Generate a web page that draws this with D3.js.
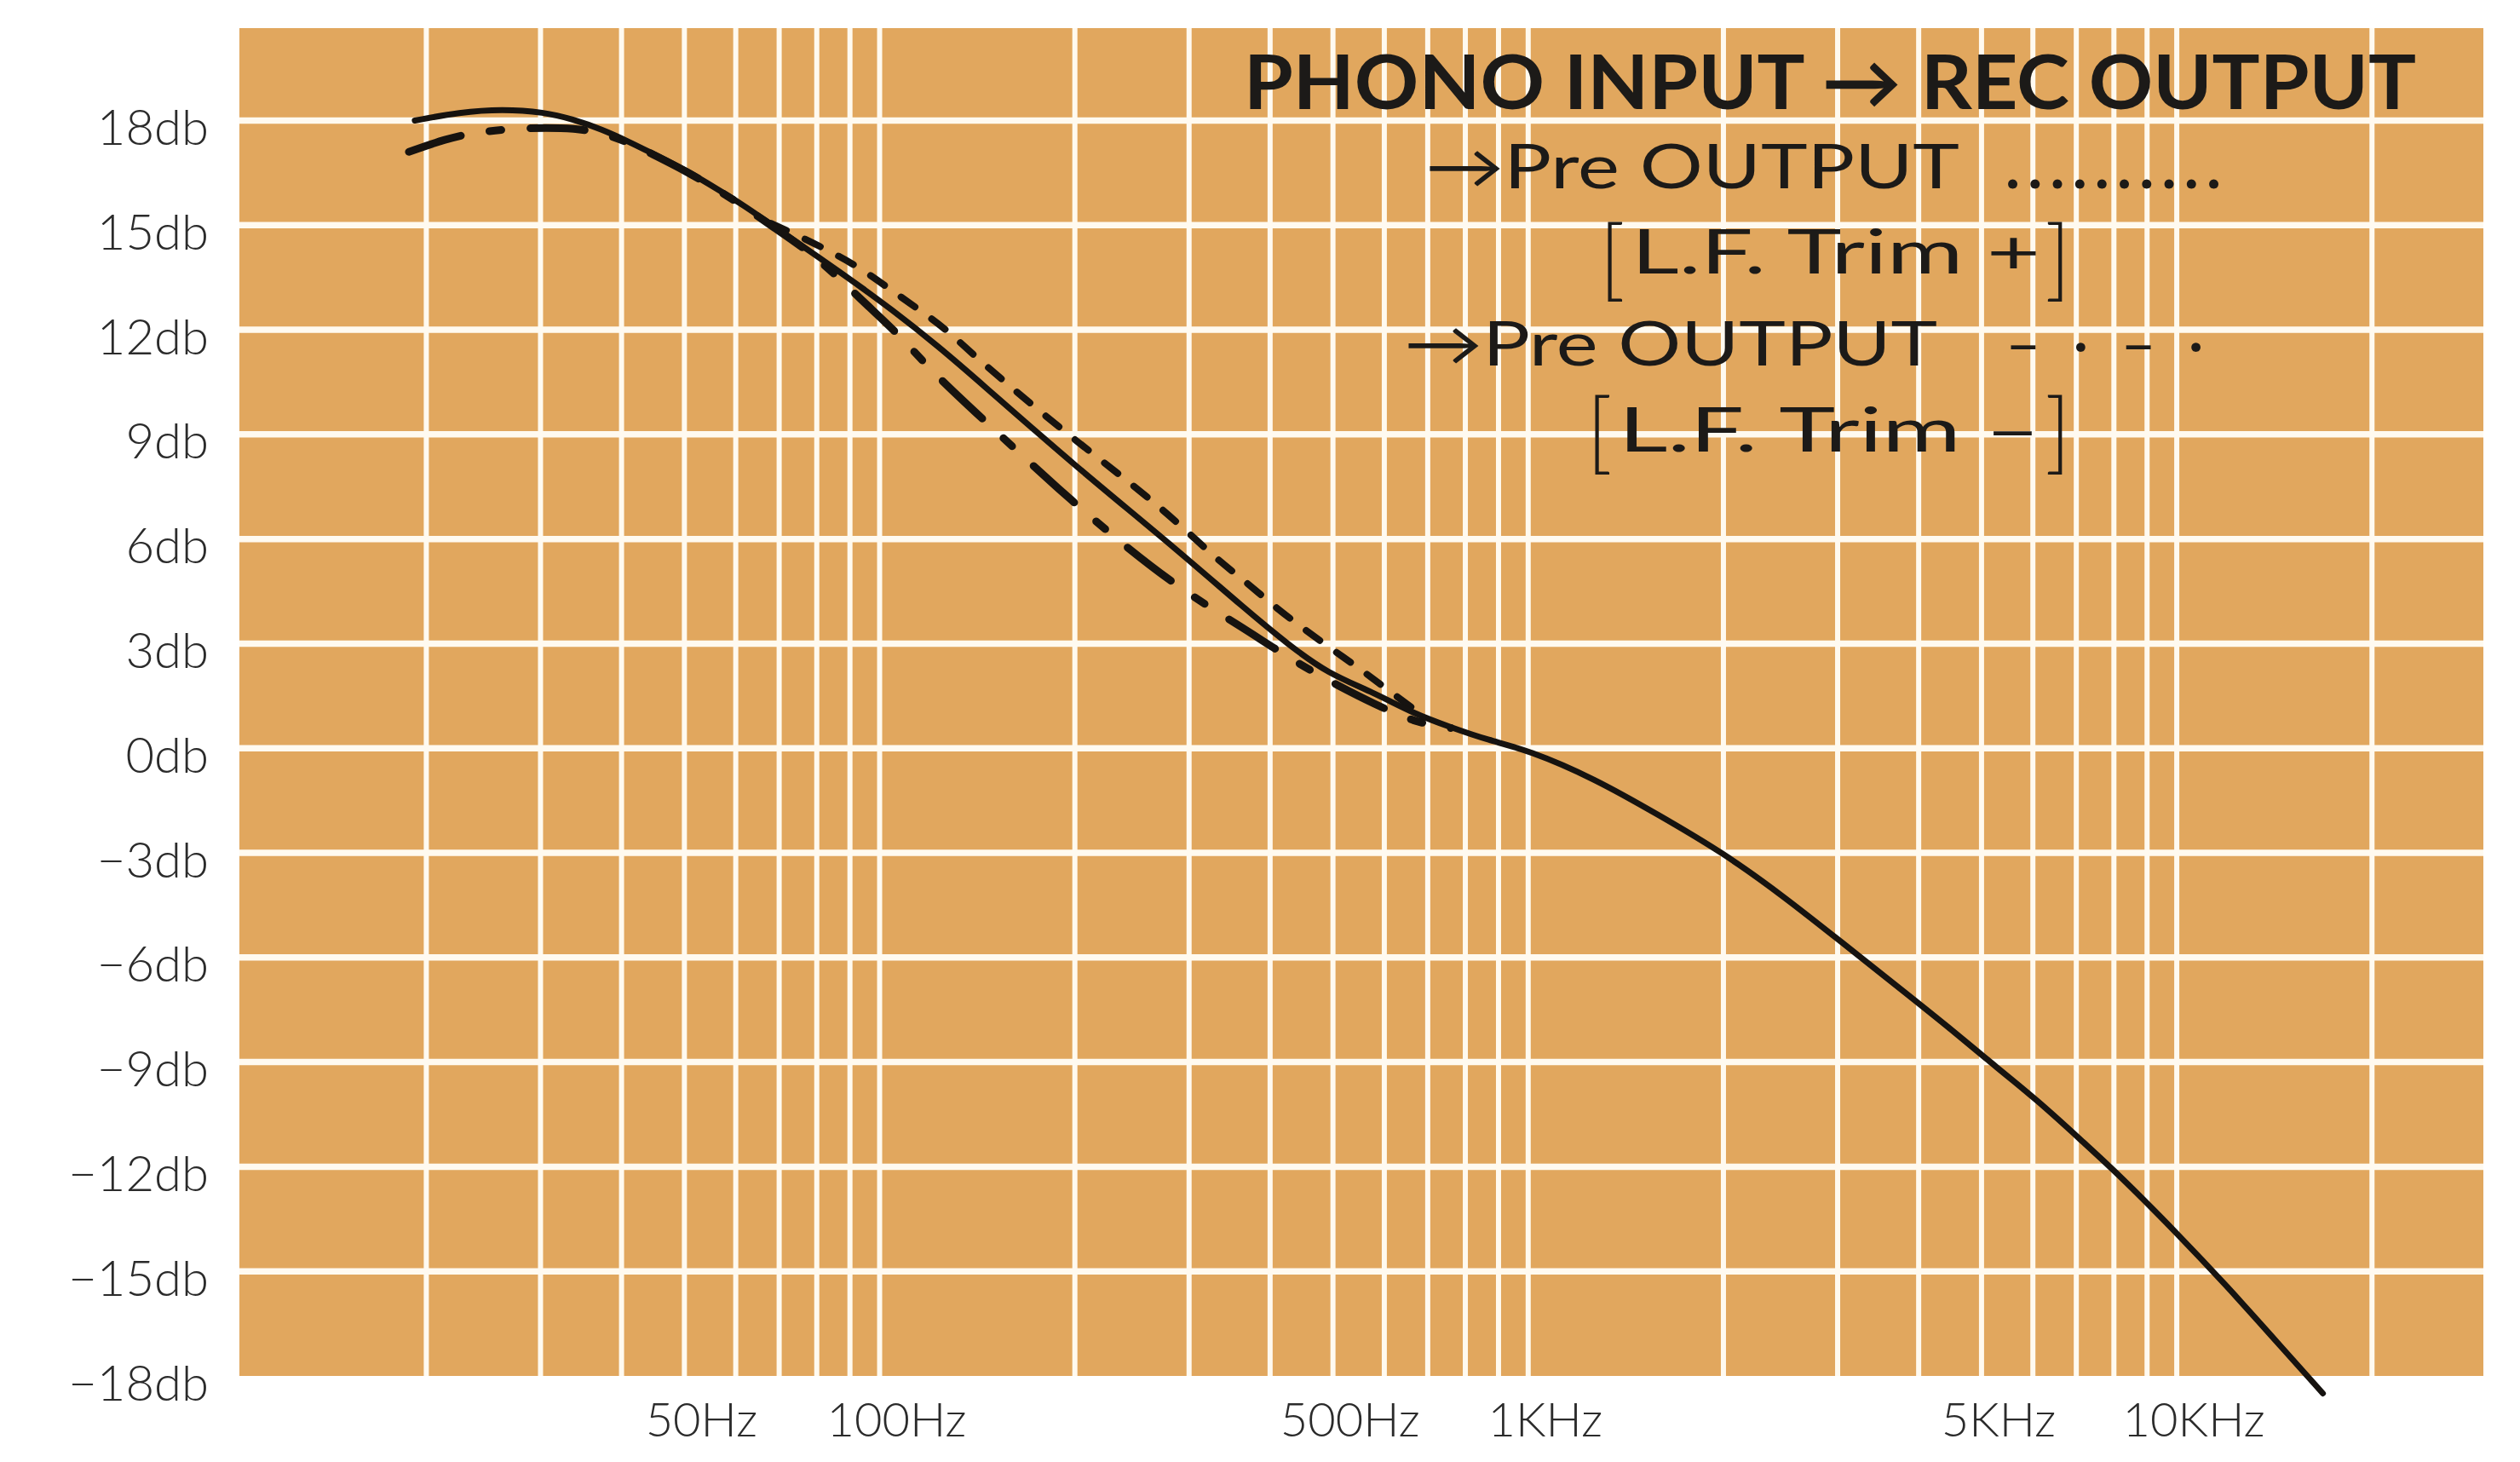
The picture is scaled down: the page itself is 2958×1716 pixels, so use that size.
<!DOCTYPE html>
<html lang="en">
<head>
<meta charset="UTF-8">
<title>Phono input - Rec output</title>
<script src="https://d3js.org/d3.v7.min.js"></script>
<style>
  body { margin: 0; background: #fff; }
  text { font-family: Lato, "Open Sans", sans-serif; }
</style>
</head>
<body>
<svg width="2958" height="1716"></svg>
<script>
// curves: frequency (Hz) and level (dB)
var recFreq = [19.2, 22.5, 26.2, 30.4, 33.6, 37.3, 41.2, 45.5, 50.4, 55.8, 61.6, 68.2, 87.8, 105, 123.6, 140.7,
               200, 277, 370, 425, 490, 578, 665, 760, 868, 1000, 1266, 1585, 2000, 2486, 3027, 3686, 4490,
               5000, 6117, 7244, 8110, 10000, 12023, 13840, 16800];
var recDb   = [18.0, 18.24, 18.33, 18.24, 18.04, 17.75, 17.38, 16.98, 16.56, 16.07, 15.58, 15.01, 13.6, 12.55, 11.5, 10.6,
               8.1, 5.95, 3.92, 3.0, 2.15, 1.6, 1.0, 0.6, 0.23, -0.05, -0.87, -1.9, -3.0, -4.27, -5.53, -6.79, -8.06,
               -8.8, -10.11, -11.37, -12.2, -13.9, -15.48, -16.75, -18.5];

// Pre OUTPUT, L.F. Trim +
var trimPlusFreq = [68, 79, 92.7, 103, 114.6, 128, 140.7, 196, 271, 329, 363, 407, 449, 493, 548, 600, 680];
var trimPlusDb   = [15.05, 14.5, 13.82, 13.2, 12.6, 11.95, 11.2, 8.95, 6.95, 5.45, 4.85, 4.05, 3.45, 2.9, 2.3, 1.75, 1.0];

// Pre OUTPUT, L.F. Trim -
var trimMinusFreq = [18.8, 21.4, 24.1, 28.9, 32.1, 36.5, 41.2, 45.5, 50.4, 55.8, 61.6, 68.2, 80, 95, 108, 121, 149,
                     188, 242, 300, 360, 407, 450, 512, 578, 667, 760];
var trimMinusDb   = [17.1, 17.47, 17.69, 17.79, 17.79, 17.72, 17.36, 16.96, 16.54, 16.05, 15.55, 14.97, 14.1, 12.75, 11.8, 10.75, 9.2,
                     7.45, 5.7, 4.4, 3.5, 2.85, 2.35, 1.77, 1.28, 0.74, 0.58];

var yTicks = [18, 15, 12, 9, 6, 3, 0, -3, -6, -9, -12, -15, -18];
var xLabelFreqs = [50, 100, 500, 1000, 5000, 10000];
var xLabels = ["50Hz", "100Hz", "500Hz", "1KHz", "5KHz", "10KHz"];

var svg = d3.select("svg");
var m = {left: 281, right: 2915, top: 33, bottom: 1615};

var x = d3.scaleLog().domain([10.3, 29700]).range([m.left, m.right]);
var y = d3.scaleLinear().domain([-18, 20.65]).range([m.bottom, m.top]);

// paper
svg.append("rect")
    .attr("x", m.left).attr("y", m.top)
    .attr("width", m.right - m.left).attr("height", m.bottom - m.top)
    .attr("fill", "#e1a75e");

// grid
svg.append("g").selectAll("line")
    .data(x.ticks())
  .enter().append("line")
    .attr("x1", function(d) { return x(d); }).attr("x2", function(d) { return x(d); })
    .attr("y1", m.top).attr("y2", m.bottom)
    .attr("stroke", "#fffaf0").attr("stroke-width", 6);

svg.append("g").selectAll("line")
    .data(yTicks.filter(function(d) { return d > -18; }))
  .enter().append("line")
    .attr("x1", m.left).attr("x2", m.right)
    .attr("y1", function(d) { return y(d); }).attr("y2", function(d) { return y(d); })
    .attr("stroke", "#fffaf0").attr("stroke-width", 7.5);

// y labels
svg.append("g").selectAll("text")
    .data(yTicks)
  .enter().append("text")
    .attr("x", 245)
    .attr("y", function(d) { return y(d) + 6; })
    .attr("text-anchor", "end")
    .attr("dominant-baseline", "central")
    .attr("font-size", 58).attr("font-weight", 300)
    .attr("fill", "#2b2b2b")
    .text(function(d) { return (d < 0 ? "\u2212" + (-d) : d) + "db"; });

// x labels
svg.append("g").selectAll("text")
    .data(xLabelFreqs)
  .enter().append("text")
    .attr("x", function(d) { return x(d) + 20; })
    .attr("y", 1686)
    .attr("text-anchor", "middle")
    .attr("font-size", 56).attr("font-weight", 300)
    .attr("fill", "#2b2b2b")
    .text(function(d, i) { return xLabels[i]; });

// curves
var line = d3.line()
    .x(function(d) { return x(d[0]); })
    .y(function(d) { return y(d[1]); })
    .curve(d3.curveBasis);

svg.append("path")
    .attr("d", line(d3.zip(trimMinusFreq, trimMinusDb)))
    .attr("fill", "none").attr("stroke", "#161310")
    .attr("stroke-width", 9).attr("stroke-linecap", "round")
    .attr("stroke-dasharray", "64,34,14,34");

svg.append("path")
    .attr("d", line(d3.zip(trimPlusFreq, trimPlusDb)))
    .attr("fill", "none").attr("stroke", "#161310")
    .attr("stroke-width", 8).attr("stroke-linecap", "round")
    .attr("stroke-dasharray", "20,24");

svg.append("path")
    .attr("d", line(d3.zip(recFreq, recDb)))
    .attr("fill", "none").attr("stroke", "#161310")
    .attr("stroke-width", 7).attr("stroke-linecap", "round");

// legend
var lg = svg.append("g").attr("fill", "#1c1a18");

lg.append("text").attr("x", 1460).attr("y", 128)
    .attr("font-size", 88).attr("font-weight", 700)
    .attr("textLength", 1376).attr("lengthAdjust", "spacingAndGlyphs")
    .text("PHONO INPUT \u2192 REC OUTPUT");

lg.append("text").attr("x", 1673).attr("y", 221)
    .attr("font-size", 72).attr("font-weight", 400)
    .attr("textLength", 627).attr("lengthAdjust", "spacingAndGlyphs")
    .text("\u2192Pre OUTPUT");
lg.append("text").attr("x", 2354).attr("y", 221)
    .attr("font-size", 72).attr("font-weight", 700)
    .attr("textLength", 253).attr("lengthAdjust", "spacing")
    .text("..........");

lg.append("text").attr("x", 1877).attr("y", 340)
    .attr("font-size", 104).attr("font-weight", 300).text("[");
lg.append("text").attr("x", 1915).attr("y", 321)
    .attr("font-size", 72).attr("font-weight", 400)
    .attr("textLength", 480).attr("lengthAdjust", "spacingAndGlyphs")
    .text("L.F. Trim +");
lg.append("text").attr("x", 2400).attr("y", 340)
    .attr("font-size", 104).attr("font-weight", 300).text("]");

lg.append("text").attr("x", 1648).attr("y", 429)
    .attr("font-size", 72).attr("font-weight", 400)
    .attr("textLength", 626).attr("lengthAdjust", "spacingAndGlyphs")
    .text("\u2192Pre OUTPUT");
lg.append("text").attr("x", 2354).attr("y", 429)
    .attr("font-size", 72).attr("font-weight", 400)
    .attr("textLength", 233).attr("lengthAdjust", "spacing")
    .text("\u2013 \u00b7 \u2013 \u00b7");

lg.append("text").attr("x", 1862).attr("y", 543)
    .attr("font-size", 104).attr("font-weight", 300).text("[");
lg.append("text").attr("x", 1900).attr("y", 530)
    .attr("font-size", 72).attr("font-weight", 400)
    .attr("textLength", 495).attr("lengthAdjust", "spacingAndGlyphs")
    .text("L.F. Trim \u2013");
lg.append("text").attr("x", 2400).attr("y", 543)
    .attr("font-size", 104).attr("font-weight", 300).text("]");
</script>
</body>
</html>
